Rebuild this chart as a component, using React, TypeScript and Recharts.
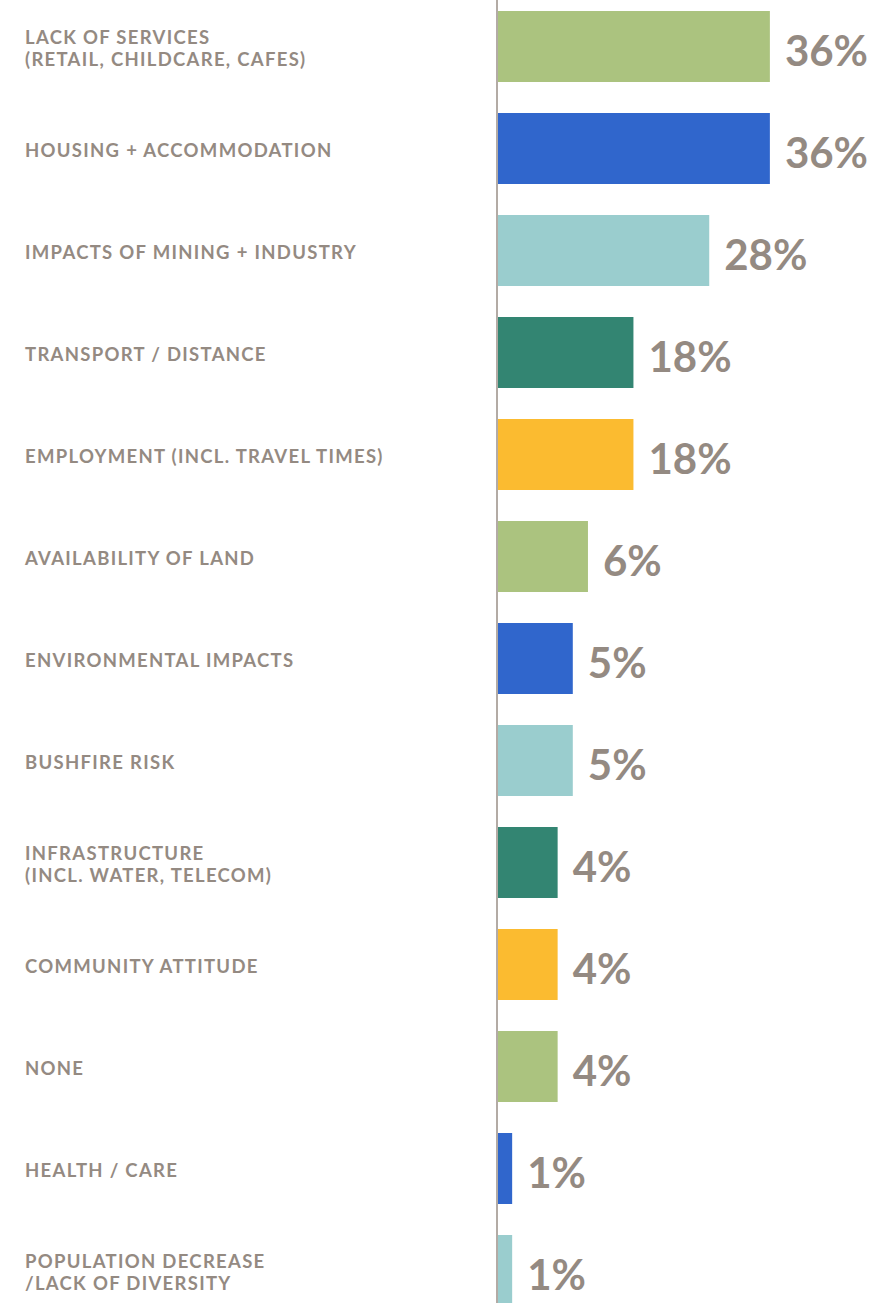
import { BarChart, Bar, XAxis, YAxis, Cell, LabelList } from "recharts";

// Category names (line breaks where the original wraps)
const categories = [
  "LACK OF SERVICES\n(RETAIL, CHILDCARE, CAFES)",
  "HOUSING + ACCOMMODATION",
  "IMPACTS OF MINING + INDUSTRY",
  "TRANSPORT / DISTANCE",
  "EMPLOYMENT (INCL. TRAVEL TIMES)",
  "AVAILABILITY OF LAND",
  "ENVIRONMENTAL IMPACTS",
  "BUSHFIRE RISK",
  "INFRASTRUCTURE\n(INCL. WATER, TELECOM)",
  "COMMUNITY ATTITUDE",
  "NONE",
  "HEALTH / CARE",
  "POPULATION DECREASE\n/LACK OF DIVERSITY",
];

// bar lengths as drawn in the picture (small ones are drawn longer than their label)
const barValues = [36, 36, 28, 18, 18, 12, 10, 10, 8, 8, 8, 2, 2];

// printed labels
const valueLabels = ["36%", "36%", "28%", "18%", "18%", "6%", "5%", "5%", "4%", "4%", "4%", "1%", "1%"];

const colors = [
  "#abc37f", "#3066cc", "#9acdce", "#338572", "#fbbb30",
  "#abc37f", "#3066cc", "#9acdce", "#338572", "#fbbb30",
  "#abc37f", "#3066cc", "#9acdce",
];

const data = categories.map((name, i) => ({
  name,
  value: barValues[i],
  label: valueLabels[i],
}));

const TEXT = "#948a82";
const FONT = "Lato, 'Open Sans', sans-serif";

const CategoryTick = ({ y, payload }: { y?: number; payload?: { value: string } }) => {
  const lines = (payload?.value ?? "").split("\n");
  const lh = 22;
  const start = (y ?? 0) + 2 - ((lines.length - 1) * lh) / 2;
  return (
    <text
      x={25}
      y={start}
      textAnchor="start"
      dominantBaseline="central"
      fill={TEXT}
      fontFamily={FONT}
      fontWeight={700}
      fontSize={18.5}
      letterSpacing={1.3}
    >
      {lines.map((l, i) => (
        <tspan key={i} x={25} y={start + i * lh}>
          {l}
        </tspan>
      ))}
    </text>
  );
};

const ValueLabel = (props: any) => {
  const { x, y, width, height, index } = props;
  return (
    <text
      x={x + width + 15}
      y={y + height / 2 + 3}
      dominantBaseline="central"
      textAnchor="start"
      fill={TEXT}
      fontFamily={FONT}
      fontWeight={700}
      fontSize={42}
    >
      {valueLabels[index]}
    </text>
  );
};

export default function App() {
  return (
    <div style={{ position: "absolute", left: 0, top: -21 }}>
      <BarChart
        width={877}
        height={1352}
        data={data}
        layout="vertical"
        margin={{ top: 16, right: 1, bottom: 10, left: 0 }}
      >
        <XAxis type="number" domain={[0, 50]} hide />
        <YAxis
          type="category"
          dataKey="name"
          width={497}
          tick={<CategoryTick />}
          tickLine={false}
          axisLine={{ stroke: "#b3aba5", strokeWidth: 2 }}
          interval={0}
        />
        <Bar dataKey="value" barSize={71} isAnimationActive={false}>
          {data.map((_, i) => (
            <Cell key={i} fill={colors[i]} />
          ))}
          <LabelList dataKey="label" content={<ValueLabel />} />
        </Bar>
      </BarChart>
    </div>
  );
}
